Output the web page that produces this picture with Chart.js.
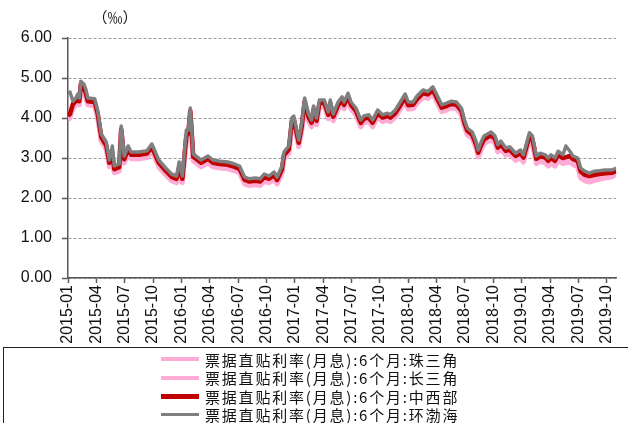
<!DOCTYPE html>
<html>
<head>
<meta charset="utf-8">
<script src="https://cdn.jsdelivr.net/npm/chart.js@4/dist/chart.umd.min.js"></script>
<style>
  html, body { margin: 0; padding: 0; background: #fff; }
  #wrap { position: relative; width: 628px; height: 423px; overflow: hidden; }
  #c { position: absolute; left: 0; top: 0; }
  #legend { position: absolute; left: 3px; top: 347px; width: 700px; height: 120px;
            border: 1px solid #222; box-sizing: border-box; }
  .row { position: absolute; left: 157px; height: 18px; display: flex; align-items: center;
         white-space: nowrap; font: 15px "Noto Sans CJK SC", sans-serif; letter-spacing: 1.8px; color: #111; }
  .swatch { width: 38px; margin-right: 6px; }
</style>
</head>
<body>
<div id="wrap">
  <canvas id="c" width="628" height="348"></canvas>
  <div id="legend"></div>
</div>
<script>
// Months elapsed since 2015-01 for each observation
const monthPos = [
  0.00, 0.21, 0.52, 0.83, 1.04, 1.20, 1.36, 1.67, 1.88, 2.09,
  2.82, 3.13, 3.52, 4.04, 4.38, 4.69, 4.90, 5.42, 5.63, 5.95,
  6.36, 6.68, 7.51, 8.35, 8.87, 9.60, 10.33, 10.95, 11.48, 11.76,
  12.10, 12.52, 12.73, 12.94, 13.25, 14.08, 14.81, 15.33, 16.06, 16.90,
  17.63, 18.15, 18.67, 19.19, 19.82, 20.34, 20.76, 21.28, 21.80, 22.12,
  22.64, 22.85, 23.37, 23.68, 23.89, 24.41, 24.72, 25.04, 25.45, 25.77,
  25.98, 26.29, 26.60, 27.12, 27.54, 27.75, 28.06, 28.58, 29.00, 29.21,
  29.63, 29.94, 30.46, 30.98, 31.30, 31.82, 32.23, 32.76, 33.28, 33.80,
  34.11, 34.63, 35.16, 35.68, 35.99, 36.51, 36.93, 37.56, 38.08, 38.60,
  39.02, 39.54, 40.06, 40.58, 41.10, 41.62, 41.94, 42.25, 42.77, 43.19,
  43.40, 43.71, 44.02, 44.76, 45.17, 45.48, 45.80, 46.32, 46.73, 47.36,
  47.88, 48.19, 48.82, 49.13, 49.55, 49.97, 50.49, 50.80, 51.11, 51.53,
  51.85, 52.37, 52.68, 53.10, 53.41, 53.93, 54.24, 54.66, 55.18, 55.71,
  56.23, 56.85, 57.58, 58.00
];

// 票据直贴利率(月息):6个月, ‰
const zhuSanJiao = [
  3.95, 4.00, 4.25, 4.33, 4.36, 4.33, 4.75, 4.68, 4.52, 4.33,
  4.30, 4.02, 3.42, 3.22, 2.78, 2.95, 2.63, 2.67, 3.60, 2.87,
  3.12, 2.98, 2.98, 3.01, 3.18, 2.78, 2.58, 2.43, 2.38, 2.62,
  2.38, 3.42, 3.50, 4.05, 2.93, 2.78, 2.88, 2.78, 2.75, 2.73,
  2.68, 2.63, 2.36, 2.31, 2.33, 2.31, 2.42, 2.38, 2.47, 2.35,
  2.62, 2.97, 3.12, 3.80, 3.86, 3.28, 3.66, 4.32, 3.92, 3.78,
  4.12, 3.83, 4.27, 4.28, 3.98, 4.27, 3.93, 4.22, 4.35, 4.23,
  4.44, 4.23, 4.08, 3.78, 3.88, 3.91, 3.78, 4.02, 3.91, 3.95,
  3.91, 4.02, 4.22, 4.42, 4.22, 4.23, 4.37, 4.52, 4.49, 4.60,
  4.40, 4.16, 4.20, 4.25, 4.23, 4.08, 3.78, 3.58, 3.48, 3.23,
  3.03, 3.20, 3.36, 3.46, 3.37, 3.15, 3.23, 3.07, 3.10, 2.94,
  3.01, 2.90, 3.42, 3.36, 2.86, 2.92, 2.88, 2.80, 2.86, 2.80,
  2.94, 2.86, 2.88, 2.90, 2.84, 2.78, 2.50, 2.43, 2.40, 2.44,
  2.47, 2.50, 2.53, 2.60
];
const changSanJiao = [
  4.00, 4.05, 4.30, 4.37, 4.40, 4.37, 4.80, 4.73, 4.57, 4.37,
  4.35, 4.07, 3.47, 3.27, 2.83, 3.00, 2.67, 2.72, 3.66, 2.92,
  3.17, 3.03, 3.03, 3.06, 3.23, 2.83, 2.63, 2.48, 2.43, 2.68,
  2.43, 3.48, 3.56, 4.12, 2.98, 2.83, 2.93, 2.83, 2.80, 2.78,
  2.73, 2.68, 2.41, 2.36, 2.38, 2.36, 2.47, 2.43, 2.52, 2.40,
  2.67, 3.02, 3.17, 3.86, 3.91, 3.33, 3.72, 4.37, 3.97, 3.83,
  4.17, 3.88, 4.32, 4.33, 4.03, 4.32, 3.98, 4.27, 4.40, 4.28,
  4.49, 4.28, 4.13, 3.83, 3.93, 3.96, 3.83, 4.07, 3.96, 4.00,
  3.96, 4.07, 4.27, 4.47, 4.27, 4.28, 4.42, 4.57, 4.54, 4.65,
  4.45, 4.21, 4.25, 4.30, 4.28, 4.13, 3.83, 3.63, 3.53, 3.28,
  3.08, 3.26, 3.41, 3.51, 3.42, 3.20, 3.28, 3.12, 3.15, 2.99,
  3.06, 2.95, 3.48, 3.42, 2.92, 2.97, 2.94, 2.86, 2.92, 2.86,
  3.00, 2.92, 2.94, 2.96, 2.90, 2.85, 2.58, 2.50, 2.47, 2.51,
  2.53, 2.55, 2.57, 2.62
];
const zhongXiBu = [
  4.05, 4.10, 4.35, 4.42, 4.45, 4.42, 4.85, 4.78, 4.62, 4.42,
  4.40, 4.12, 3.52, 3.32, 2.88, 3.10, 2.72, 2.77, 3.72, 2.97,
  3.22, 3.08, 3.08, 3.11, 3.28, 2.88, 2.68, 2.53, 2.48, 2.75,
  2.48, 3.55, 3.62, 4.18, 3.03, 2.88, 2.98, 2.88, 2.85, 2.83,
  2.78, 2.73, 2.46, 2.41, 2.43, 2.41, 2.52, 2.48, 2.57, 2.45,
  2.72, 3.07, 3.22, 3.92, 3.97, 3.38, 3.77, 4.42, 4.02, 3.88,
  4.22, 3.93, 4.37, 4.38, 4.08, 4.37, 4.03, 4.32, 4.45, 4.33,
  4.54, 4.33, 4.18, 3.88, 3.98, 4.01, 3.88, 4.12, 4.01, 4.05,
  4.01, 4.12, 4.32, 4.52, 4.32, 4.33, 4.47, 4.62, 4.59, 4.70,
  4.50, 4.26, 4.30, 4.35, 4.33, 4.18, 3.88, 3.68, 3.58, 3.33,
  3.13, 3.32, 3.47, 3.57, 3.48, 3.26, 3.34, 3.18, 3.21, 3.05,
  3.12, 3.01, 3.55, 3.48, 2.98, 3.04, 3.01, 2.93, 3.00, 2.93,
  3.08, 3.00, 3.02, 3.05, 2.98, 2.93, 2.66, 2.58, 2.55, 2.58,
  2.60, 2.62, 2.63, 2.68
];
const huanBoHai = [
  4.62, 4.65, 4.42, 4.50, 4.60, 4.50, 4.92, 4.85, 4.72, 4.50,
  4.48, 4.20, 3.60, 3.40, 2.95, 3.30, 2.80, 2.85, 3.80, 3.05,
  3.30, 3.15, 3.15, 3.18, 3.35, 2.95, 2.75, 2.60, 2.55, 2.90,
  2.55, 3.70, 3.70, 4.25, 3.10, 2.95, 3.05, 2.95, 2.92, 2.90,
  2.85, 2.80, 2.53, 2.48, 2.50, 2.48, 2.60, 2.55, 2.65, 2.52,
  2.80, 3.15, 3.30, 4.00, 4.05, 3.45, 3.85, 4.50, 4.10, 3.95,
  4.30, 4.00, 4.45, 4.45, 4.15, 4.45, 4.10, 4.40, 4.53, 4.40,
  4.62, 4.40, 4.25, 3.95, 4.05, 4.08, 3.95, 4.20, 4.08, 4.12,
  4.08, 4.20, 4.40, 4.60, 4.40, 4.40, 4.55, 4.70, 4.66, 4.78,
  4.58, 4.33, 4.37, 4.42, 4.40, 4.25, 3.95, 3.75, 3.65, 3.40,
  3.20, 3.40, 3.55, 3.65, 3.55, 3.33, 3.42, 3.25, 3.28, 3.12,
  3.20, 3.08, 3.63, 3.55, 3.05, 3.12, 3.08, 3.00, 3.08, 3.00,
  3.17, 3.08, 3.30, 3.17, 3.05, 3.00, 2.75, 2.67, 2.62, 2.67,
  2.68, 2.70, 2.70, 2.75
];

// Quarterly x-axis labels (one every 3 months from 2015-01)
const quarterLabels = [
  '2015-01', '2015-04', '2015-07', '2015-10',
  '2016-01', '2016-04', '2016-07', '2016-10',
  '2017-01', '2017-04', '2017-07', '2017-10',
  '2018-01', '2018-04', '2018-07', '2018-10',
  '2019-01', '2019-04', '2019-07', '2019-10'
];
const yTicks = [0, 1, 2, 3, 4, 5, 6];

const seriesNames = [
  '票据直贴利率(月息):6个月:珠三角',
  '票据直贴利率(月息):6个月:长三角',
  '票据直贴利率(月息):6个月:中西部',
  '票据直贴利率(月息):6个月:环渤海'
];
const seriesValues = [zhuSanJiao, changSanJiao, zhongXiBu, huanBoHai];
const seriesColors = ['#FFABD5', '#FFABD5', '#C00000', '#7F7F7F'];
const seriesWidths = [5, 5, 4.5, 3.5];
const legendThickness = [4, 4, 5, 3];

const toPoints = vals => vals.map((v, i) => ({ x: monthPos[i], y: v }));

const datasets = seriesNames.map((name, i) => ({
  label: name,
  data: toPoints(seriesValues[i]),
  borderColor: seriesColors[i],
  backgroundColor: seriesColors[i],
  borderWidth: seriesWidths[i],
  pointRadius: 0,
  tension: 0,
  fill: false,
  borderJoinStyle: 'round',
  order: seriesNames.length - i   // later series are painted above earlier ones
}));

// Unit caption above the value axis
const unitCaption = {
  id: 'unitCaption',
  afterDraw(chart) {
    const ctx = chart.ctx;
    ctx.save();
    ctx.font = '15px "Noto Sans CJK SC", sans-serif';
    ctx.fillStyle = '#111';
    ctx.textAlign = 'center';
    ctx.textBaseline = 'middle';
    ctx.fillText('（‰）', chart.chartArea.left + 47, 17);
    ctx.restore();
  }
};

const axisFont = { family: '"Liberation Sans", Arial, sans-serif', size: 16 };

const chart = new Chart(document.getElementById('c'), {
  type: 'line',
  data: { datasets },
  plugins: [unitCaption],
  options: {
    responsive: false,
    animation: false,
    events: [],
    layout: { padding: { top: 38, right: 4, left: 0, bottom: 0 } },
    plugins: { legend: { display: false }, tooltip: { enabled: false } },
    scales: {
      x: {
        type: 'linear',
        min: 0,
        max: 58,
        afterBuildTicks(scale) {
          scale.ticks = quarterLabels.map((_, i) => ({ value: i * 3 }));
        },
        afterFit(scale) { scale.height = 70; },
        ticks: {
          autoSkip: false,
          maxRotation: 90,
          minRotation: 90,
          padding: 2,
          color: '#111',
          font: axisFont,
          callback: (v) => quarterLabels[Math.round(v / 3)]
        },
        grid: { drawOnChartArea: false, drawTicks: true, tickLength: 5, tickColor: '#595959', tickWidth: 1.5 },
        border: { display: true, color: '#595959', width: 1.5 }
      },
      y: {
        min: 0,
        max: 6,
        afterBuildTicks(scale) {
          scale.ticks = yTicks.map(v => ({ value: v }));
        },
        afterFit(scale) { scale.width = 68; },
        ticks: {
          padding: 10,
          color: '#111',
          font: axisFont,
          callback: (v) => v.toFixed(2)
        },
        grid: { color: '#9A9A9A', lineWidth: 1, drawTicks: true, tickLength: 6, tickColor: '#595959', tickWidth: 1.5 },
        border: { display: true, color: '#595959', width: 1.5, dash: [3, 2] }
      }
    }
  }
});

// Legend column below the plot, built from the chart's datasets
const legendBox = document.getElementById('legend');
chart.data.datasets.forEach((ds, i) => {
  const row = document.createElement('div');
  row.className = 'row';
  row.style.top = (2 + 18.5 * i) + 'px';
  const sw = document.createElement('span');
  sw.className = 'swatch';
  sw.style.height = legendThickness[i] + 'px';
  sw.style.background = ds.borderColor;
  const txt = document.createElement('span');
  txt.textContent = ds.label;
  row.appendChild(sw);
  row.appendChild(txt);
  legendBox.appendChild(row);
});
</script>
</body>
</html>
